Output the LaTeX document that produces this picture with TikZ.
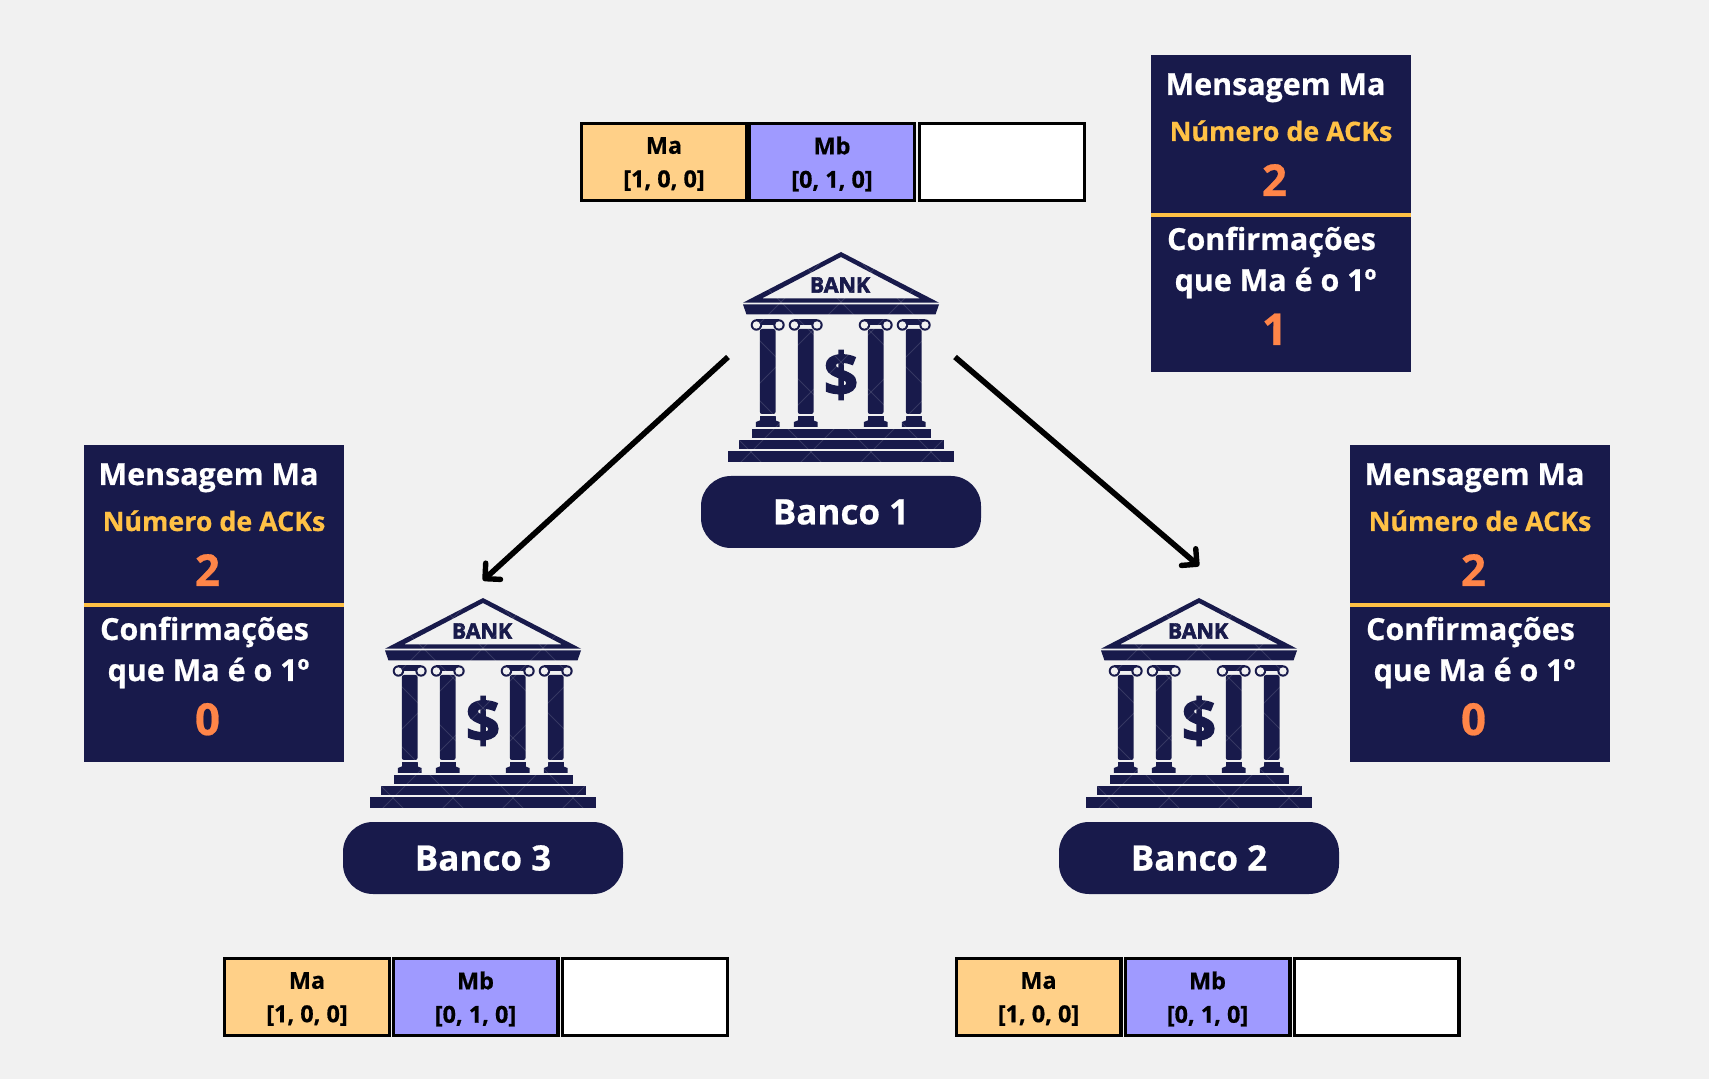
\documentclass[tikz,border=0pt]{standalone}
\usepackage{fontspec}
\setmainfont{Open Sans}[BoldFont={Open Sans Bold}]
\newfontfamily\heavyfont{Open Sans Bold}[FakeBold=2.5]
\newfontfamily\semifont{Open Sans Bold}[FakeBold=0.6]
\usetikzlibrary{arrows.meta}
\definecolor{navy}{HTML}{181A4B}
\definecolor{bgc}{HTML}{F1F1F1}
\definecolor{gold}{HTML}{FFC145}
\definecolor{orangec}{HTML}{FF8548}
\definecolor{mac}{HTML}{FFD088}
\definecolor{mbc}{HTML}{9F9AFF}
\tikzset{
  cell/.style={draw=black,line width=1.7pt,inner sep=0pt,minimum height=38.3pt,minimum width=82.3pt,anchor=north west},
  celltxt/.style={font=\semifont\fontsize{11.7}{14}\selectfont,text=black,align=center},
  pnl/.style={fill=navy,draw=none},
  wtxt/.style={font=\semifont\fontsize{15.2}{18}\selectfont,text=white,inner sep=0pt,anchor=base},
  gtxt/.style={font=\semifont\fontsize{13.4}{16}\selectfont,text=gold,inner sep=0pt,anchor=base},
  ntxt/.style={font=\semifont\fontsize{22}{24}\selectfont,text=orangec,inner sep=0pt,anchor=base},
  pill/.style={fill=navy,rounded corners=15pt,minimum width=140pt,minimum height=36pt,inner sep=0pt,font=\semifont\fontsize{17.5}{20}\selectfont,text=white},
  arr/.style={line width=2.8pt,black,-{Straight Barb[length=5.5pt,width=11pt,line width=2.7pt,round]}},
  pics/bankicon/.style={code={
    % roof
    \fill[navy,even odd rule] (0,0) -- (98,50.7) -- (-98,50.7) -- cycle
       (0,5) -- (79,46.4) -- (-79,46.4) -- cycle;
    \node[font=\heavyfont\fontsize{10.7}{11}\selectfont,text=navy,inner sep=0pt] (-bk) at (-1,33) {BANK};
    \fill[navy] (-98,52.5) -- (98,52.5) -- (94.5,62.5) -- (-94.5,62.5) -- cycle;
    % columns
    \foreach \cx in {-73.3,-35.3,34.7,72.7}{
      \begin{scope}[shift={(\cx,0)}]
      \fill[navy] (-11.3,67.5) rectangle (11.3,73);
      \fill[navy] (-11.3,73) circle[radius=5.7] (11.3,73) circle[radius=5.7];
      \fill[bgc] (-11.3,73) circle[radius=3.7] (11.3,73) circle[radius=3.7];
      \fill[navy,rounded corners=1pt] (-7.8,77) rectangle (7.8,162);
      \fill[navy] (-8,164) rectangle (8,169);
      \fill[navy] (-8,168.5) -- (8,168.5) -- (11.8,170) -- (11.8,175) -- (-11.8,175) -- (-11.8,170) -- cycle;
      \end{scope}
    }
    % dollar
    \node[font=\heavyfont\fontsize{30}{30}\selectfont,text=navy,inner sep=0pt] (-dl) at (0,123) {\$};
    % steps
    \fill[navy] (-89.3,177.3) rectangle (89.7,186);
    \fill[navy] (-102.3,188.3) rectangle (102.7,197);
    \fill[navy] (-112.7,199.3) rectangle (113,210);
    % faint watermark lattice: only visible over the dark shapes
    \begin{scope}
      \clip (-113,0) rectangle (113,210);
      \foreach \o in {-300,-240,...,300}{
        \draw[bgc,opacity=.14,line width=.4pt] (\o-120,-10) -- (\o+120,230);
        \draw[bgc,opacity=.14,line width=.4pt] (\o+120,-10) -- (\o-120,230);
      }
    \end{scope}
  }}
}
\newcommand{\queue}[5]{% prefix, x1, x2, x3, y
    \node[cell,fill=mac] (#1a) at (#2,#5) {};
    \node[celltxt] (#1at) at ([yshift=-1pt]#1a.center) {Ma\\[2.7pt][1, 0, 0]};
    \node[cell,fill=mbc] (#1b) at (#3,#5) {};
    \node[celltxt] (#1bt) at ([yshift=-1pt]#1b.center) {Mb\\[2.7pt][0, 1, 0]};
    \node[cell,fill=white] (#1c) at (#4,#5) {};
}
\newcommand{\infopanel}[4]{% dx, dy, prefix, last
  \begin{scope}[shift={(#1,#2)}]
    \node[pnl,minimum width=130pt,minimum height=158.5pt,inner sep=0pt,anchor=north west] (#3) at (1151,55) {};
    \fill[gold] (1151,213.5) rectangle (1411,217);
    \node[wtxt] (#3t1) at (1275.5,95) {Mensagem Ma};
    \node[gtxt] (#3t2) at (1281,141) {Número de ACKs};
    \node[ntxt] (#3t3) at (1274.5,196) {2};
    \node[wtxt] (#3t4) at (1271.5,250) {Confirmações};
    \node[wtxt] (#3t5) at (1275.5,291) {que Ma é o 1º};
    \node[ntxt] (#3t6) at (1274.5,345) {#4};
  \end{scope}}
\begin{document}
\begin{tikzpicture}[x=0.5pt,y=-0.5pt]
\useasboundingbox (0,0) rectangle (1709,1079);
\fill[bgc] (0,0) rectangle (1709,1079);
\queue{q1}{580}{748}{918}{122}
\queue{q3}{223}{391.5}{561}{957}
\queue{q2}{954.5}{1123.5}{1292.5}{957}
\infopanel{0}{0}{p1}{1}
\infopanel{-1067}{390}{p3}{0}
\infopanel{199}{390}{p2}{0}
\pic (b1) at (841,252) {bankicon};
\pic (b3) at (483,598) {bankicon};
\pic (b2) at (1199,598) {bankicon};
\node[pill] (n1) at (841,512) {\raisebox{-.5pt}{Banco 1}};
\node[pill] (n3) at (483,858) {\raisebox{-.5pt}{Banco 3}};
\node[pill] (n2) at (1199,858) {\raisebox{-.5pt}{Banco 2}};
\coordinate (a1l) at (728,357);
\coordinate (a1r) at (955,357);
\coordinate (a3) at (483,580.5);
\coordinate (a2) at (1199,566);
\draw[arr] (a1l) -- (a3);
\draw[arr] (a1r) -- (a2);
\end{tikzpicture}
\end{document}
